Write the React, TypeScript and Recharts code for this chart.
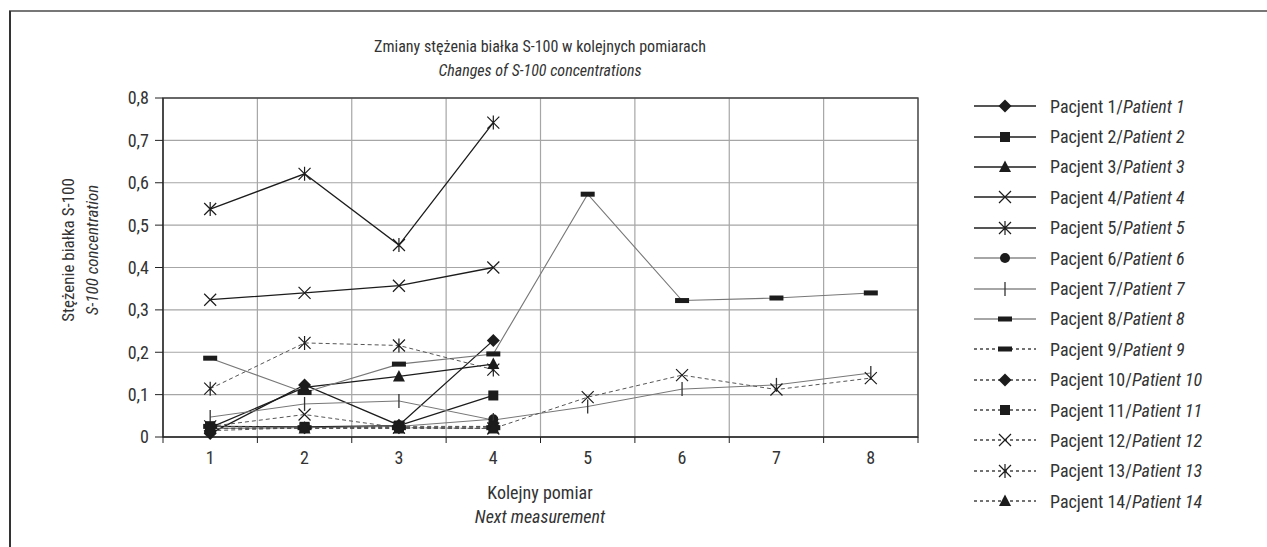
import React from 'react';
import { LineChart, Line, XAxis, YAxis, CartesianGrid, ReferenceArea } from 'recharts';

const FONT = '"Liberation Sans Narrow", "Roboto Condensed", Roboto, "Liberation Sans", sans-serif';

// measurement numbers (x axis) and the grid boundaries between them
const measurements = [1, 2, 3, 4, 5, 6, 7, 8];
const gridBounds = [0.5, 1.5, 2.5, 3.5, 4.5, 5.5, 6.5, 7.5, 8.5];
const yTicks = [0, 0.1, 0.2, 0.3, 0.4, 0.5, 0.6, 0.7, 0.8];

// S-100 concentration per patient, one value per measurement
const patient1 = [0.008, 0.123, 0.028, 0.228];
const patient2 = [0.025, 0.024, 0.027, 0.098];
const patient3 = [0.022, 0.117, 0.143, 0.172];
const patient4 = [0.324, 0.34, 0.357, 0.4];
const patient5 = [0.538, 0.621, 0.453, 0.742];
const patient6 = [0.02, 0.022, 0.025, 0.042];
const patient7 = [0.047, 0.078, 0.085, 0.04, 0.072, 0.113, 0.123, 0.151];
const patient8 = [0.186, 0.105, 0.172, 0.196, 0.573, 0.322, 0.328, 0.34];
const patient9 = [0.025, 0.022, 0.022, 0.022];
const patient10 = [0.015, 0.022, 0.022, 0.025];
const patient11 = [0.025, 0.022, 0.025, 0.025];
const patient12 = [0.025, 0.053, 0.022, 0.02, 0.094, 0.146, 0.112, 0.139];
const patient13 = [0.114, 0.222, 0.216, 0.159];
const patient14 = [0.02, 0.02, 0.02, 0.02];

type Shape = 'diamond' | 'square' | 'triangle' | 'cross' | 'star' | 'circle' | 'vbar' | 'hbar';

const BLACK = '#1c1c1c';
const GRAY = '#777';
const DASHED = '#555';

const series: { key: string; n: number; values: number[]; shape: Shape; stroke: string; width: number; dash?: string }[] = [
  { key: 'p1', n: 1, values: patient1, shape: 'diamond', stroke: BLACK, width: 1.3 },
  { key: 'p2', n: 2, values: patient2, shape: 'square', stroke: BLACK, width: 1.3 },
  { key: 'p3', n: 3, values: patient3, shape: 'triangle', stroke: BLACK, width: 1.3 },
  { key: 'p4', n: 4, values: patient4, shape: 'cross', stroke: BLACK, width: 1.3 },
  { key: 'p5', n: 5, values: patient5, shape: 'star', stroke: BLACK, width: 1.3 },
  { key: 'p6', n: 6, values: patient6, shape: 'circle', stroke: GRAY, width: 1 },
  { key: 'p7', n: 7, values: patient7, shape: 'vbar', stroke: GRAY, width: 1 },
  { key: 'p8', n: 8, values: patient8, shape: 'hbar', stroke: GRAY, width: 1.1 },
  { key: 'p9', n: 9, values: patient9, shape: 'hbar', stroke: DASHED, width: 1, dash: '4 3' },
  { key: 'p10', n: 10, values: patient10, shape: 'diamond', stroke: DASHED, width: 1, dash: '4 3' },
  { key: 'p11', n: 11, values: patient11, shape: 'square', stroke: DASHED, width: 1, dash: '4 3' },
  { key: 'p12', n: 12, values: patient12, shape: 'cross', stroke: DASHED, width: 1, dash: '4 3' },
  { key: 'p13', n: 13, values: patient13, shape: 'star', stroke: DASHED, width: 1, dash: '4 3' },
  { key: 'p14', n: 14, values: patient14, shape: 'triangle', stroke: DASHED, width: 1, dash: '4 3' },
];

const data = measurements.map((m, i) => {
  const row: Record<string, number | null> = { m };
  series.forEach(s => {
    row[s.key] = s.values[i] ?? null;
  });
  return row;
});

const CHART_W = 940;
const CHART_H = 547;
const MARGIN = { top: 98, right: 22, bottom: 0, left: 0 };
const Y_AXIS_W = 163;
const PLOT_W = CHART_W - MARGIN.left - MARGIN.right - Y_AXIS_W;

const Marker = ({ shape, cx, cy, color = BLACK }: { shape: Shape; cx: number; cy: number; color?: string }) => {
  switch (shape) {
    case 'diamond':
      return <polygon points={`${cx},${cy - 6.5} ${cx + 6.5},${cy} ${cx},${cy + 6.5} ${cx - 6.5},${cy}`} fill={color} />;
    case 'square':
      return <rect x={cx - 5} y={cy - 5} width={10} height={10} fill={color} />;
    case 'triangle':
      return <polygon points={`${cx},${cy - 6.5} ${cx + 6},${cy + 5} ${cx - 6},${cy + 5}`} fill={color} />;
    case 'cross':
      return (
        <path d={`M${cx - 6},${cy - 6}L${cx + 6},${cy + 6}M${cx + 6},${cy - 6}L${cx - 6},${cy + 6}`} stroke={color} strokeWidth={1.2} fill="none" />
      );
    case 'star':
      return (
        <path
          d={`M${cx - 6},${cy - 6}L${cx + 6},${cy + 6}M${cx + 6},${cy - 6}L${cx - 6},${cy + 6}M${cx},${cy - 7}L${cx},${cy + 7}`}
          stroke={color}
          strokeWidth={1.2}
          fill="none"
        />
      );
    case 'circle':
      return <circle cx={cx} cy={cy} r={5} fill={color} />;
    case 'vbar':
      return <line x1={cx} y1={cy - 7} x2={cx} y2={cy + 7} stroke="#333" strokeWidth={1.3} />;
    case 'hbar':
      return <rect x={cx - 7} y={cy - 2.5} width={14} height={5} fill={color} />;
  }
  return null;
};

const XTick = (props: any) => {
  const { x, y, payload } = props;
  if (payload.value > 8) return <g />;
  return (
    <text x={x + PLOT_W / 16} y={y} dy={19} textAnchor="middle" fill="#333" fontSize={18} fontFamily={FONT}>
      {payload.value + 0.5}
    </text>
  );
};

const fmtY = (v: number) => (v === 0 ? '0' : v.toFixed(1).replace('.', ','));

const textStyle: React.CSSProperties = {
  position: 'absolute',
  fontFamily: FONT,
  fontSize: 18,
  color: '#333',
  whiteSpace: 'nowrap',
  lineHeight: '24px',
};

export default function App() {
  return (
    <div style={{ position: 'absolute', left: 0, top: 0, width: 1267, height: 547, background: '#fff', overflow: 'hidden' }}>
      {/* frame edges of the original figure */}
      <div style={{ position: 'absolute', left: 9, top: 10, width: 1258, height: 2, background: '#777' }} />
      <div style={{ position: 'absolute', left: 9, top: 11, width: 1.5, height: 536, background: '#333' }} />

      <div style={{ ...textStyle, left: 540, top: 35, transform: 'translateX(-50%)', textAlign: 'center', fontSize: 16 }}>
        <div>Zmiany stężenia białka S-100 w kolejnych pomiarach</div>
        <div style={{ fontStyle: 'italic' }}>Changes of S-100 concentrations</div>
      </div>

      <div
        style={{
          ...textStyle,
          left: 80,
          top: 250,
          transform: 'translate(-50%, -50%) rotate(-90deg)',
          textAlign: 'center',
          fontSize: 17,
        }}
      >
        <div>Stężenie białka S-100</div>
        <div style={{ fontStyle: 'italic' }}>S-100 concentration</div>
      </div>

      <div style={{ ...textStyle, left: 540, top: 481, transform: 'translateX(-50%)', textAlign: 'center' }}>
        <div>Kolejny pomiar</div>
        <div style={{ fontStyle: 'italic' }}>Next measurement</div>
      </div>

      <div style={{ position: 'absolute', left: 0, top: 0 }}>
        <LineChart width={CHART_W} height={CHART_H} data={data} margin={MARGIN}>
          <CartesianGrid stroke="#a6a6a6" strokeWidth={1.2} horizontalValues={yTicks} verticalValues={gridBounds} />
          <XAxis
            dataKey="m"
            type="number"
            domain={[0.5, 8.5]}
            ticks={gridBounds}
            interval={0}
            height={110}
            tickSize={6}
            tickMargin={2}
            stroke="#222"
            tick={<XTick />}
            allowDataOverflow
          />
          <YAxis
            type="number"
            domain={[0, 0.8]}
            ticks={yTicks}
            interval={0}
            width={Y_AXIS_W}
            tickSize={8}
            tickMargin={6}
            stroke="#222"
            tick={{ fill: '#333', fontSize: 18, fontFamily: FONT }}
            tickFormatter={fmtY}
          />
          <ReferenceArea x1={0.5} x2={8.5} y1={0} y2={0.8} fill="none" stroke="#444" strokeWidth={1.3} />
          {series.map(s => (
            <Line
              key={s.key}
              dataKey={s.key}
              type="linear"
              stroke={s.stroke}
              strokeWidth={s.width}
              strokeDasharray={s.dash}
              isAnimationActive={false}
              connectNulls={false}
              activeDot={false}
              dot={(p: any) =>
                p.cx == null || p.cy == null || p.value == null ? (
                  <g key={`${s.key}-${p.index}`} />
                ) : (
                  <Marker key={`${s.key}-${p.index}`} shape={s.shape} cx={p.cx} cy={p.cy} />
                )
              }
            />
          ))}
        </LineChart>
      </div>

      {/* legend */}
      <div style={{ position: 'absolute', left: 972, top: 91 }}>
        {series.map(s => (
          <div key={s.key} style={{ display: 'flex', alignItems: 'center', height: 30.4 }}>
            <svg width={66} height={16} style={{ flex: 'none' }}>
              <line
                x1={2}
                y1={8}
                x2={64}
                y2={8}
                stroke={s.dash ? '#444' : s.stroke === GRAY ? '#888' : BLACK}
                strokeWidth={1.3}
                strokeDasharray={s.dash ? '3 3' : undefined}
              />
              <Marker shape={s.shape} cx={33} cy={8} />
            </svg>
            <span style={{ fontFamily: FONT, fontSize: 18, color: '#333', marginLeft: 12, whiteSpace: 'nowrap' }}>
              Pacjent {s.n}/<i>Patient {s.n}</i>
            </span>
          </div>
        ))}
      </div>
    </div>
  );
}
